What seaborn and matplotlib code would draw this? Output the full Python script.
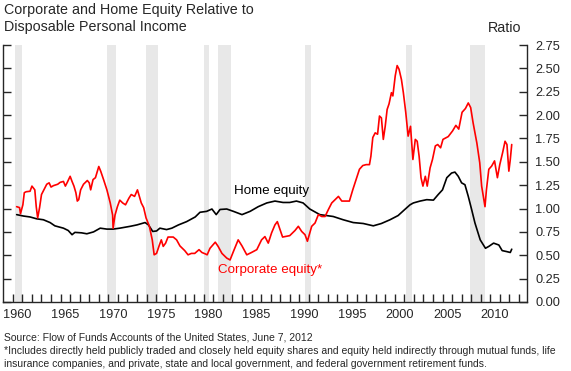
import numpy as np
import pandas as pd
import seaborn as sns
import matplotlib
matplotlib.use("Agg")
import matplotlib.pyplot as plt
from matplotlib.ticker import FixedLocator, FormatStrFormatter

# corporate equity / disposable personal income
corp_t = [1960.4, 1960.7, 1960.8, 1961.05, 1961.2, 1961.4, 1961.8, 1962.0, 1962.3, 1962.45,
          1962.6, 1962.8, 1963.0, 1963.3, 1963.55, 1963.8, 1964.0, 1964.25, 1964.7, 1964.95,
          1965.3, 1965.5, 1965.7, 1966.0, 1966.2, 1966.4, 1966.6, 1966.75, 1966.9, 1967.1,
          1967.4, 1967.8, 1968.0, 1968.15, 1968.4, 1968.65, 1969.0, 1969.2, 1969.5, 1969.85,
          1970.2, 1970.45, 1970.5, 1970.7, 1970.95, 1971.2, 1971.5, 1971.8, 1972.15, 1972.4,
          1972.75, 1973.05, 1973.25, 1973.45, 1973.7, 1973.95, 1974.3, 1974.6, 1974.8, 1975.05,
          1975.35, 1975.55, 1975.75, 1976.0, 1976.25, 1976.8, 1977.15, 1977.5, 1978.0, 1978.35,
          1978.7, 1979.05, 1979.5, 1979.8, 1980.15, 1980.35, 1980.65, 1981.2, 1981.5, 1981.9,
          1982.4, 1982.75, 1983.1, 1983.6, 1984.0, 1984.5, 1985.0, 1985.55, 1986.05, 1986.4,
          1986.75, 1987.1, 1987.45, 1987.7, 1988.0, 1988.25, 1989.0, 1989.55, 1989.9, 1990.25,
          1990.6, 1990.85, 1991.3, 1991.65, 1992.0, 1992.35, 1992.7, 1993.05, 1993.4, 1993.75,
          1994.1, 1994.45, 1994.8, 1995.25, 1995.6, 1995.95, 1996.3, 1996.65, 1997.0, 1997.35,
          1997.5, 1997.7, 1997.95, 1998.2, 1998.4, 1998.6, 1998.8, 1999.0, 1999.2, 1999.4,
          1999.65, 1999.8, 2000.05, 2000.25, 2000.45, 2000.7, 2000.9, 2001.15, 2001.4, 2001.65,
          2001.9, 2002.15, 2002.35, 2002.55, 2002.75, 2002.95, 2003.2, 2003.4, 2003.7, 2003.95,
          2004.25, 2004.5, 2004.8, 2005.05, 2005.6, 2006.05, 2006.4, 2006.7, 2007.05, 2007.4,
          2007.7, 2007.95, 2008.2, 2008.6, 2008.9, 2009.1, 2009.45, 2009.6, 2009.85, 2010.15,
          2010.45, 2010.75, 2011.0, 2011.3, 2011.55, 2011.75, 2011.95, 2012.1, 2012.25]
corp_v = [1.02, 1.01, 0.945, 1.04, 1.17, 1.18, 1.185, 1.24, 1.20, 1.02,
          0.90, 1.01, 1.15, 1.21, 1.26, 1.275, 1.23, 1.245, 1.26, 1.28,
          1.29, 1.24, 1.28, 1.345, 1.29, 1.24, 1.17, 1.08, 1.095, 1.20,
          1.26, 1.30, 1.275, 1.20, 1.31, 1.33, 1.45, 1.40, 1.31, 1.20,
          1.06, 0.93, 0.79, 0.93, 1.02, 1.09, 1.06, 1.04, 1.11, 1.15,
          1.13, 1.20, 1.13, 1.06, 1.01, 0.90, 0.81, 0.665, 0.505, 0.52,
          0.61, 0.665, 0.595, 0.63, 0.695, 0.695, 0.665, 0.60, 0.55, 0.505,
          0.52, 0.52, 0.56, 0.53, 0.515, 0.505, 0.575, 0.64, 0.595, 0.52,
          0.47, 0.45, 0.54, 0.665, 0.60, 0.505, 0.53, 0.56, 0.665, 0.70,
          0.63, 0.74, 0.825, 0.86, 0.77, 0.695, 0.71, 0.765, 0.81, 0.755,
          0.72, 0.65, 0.81, 0.845, 0.935, 0.915, 0.915, 0.99, 1.06, 1.095,
          1.13, 1.08, 1.08, 1.08, 1.20, 1.31, 1.42, 1.46, 1.47, 1.47,
          1.56, 1.76, 1.81, 1.795, 1.99, 1.97, 1.74, 1.88, 2.06, 2.12,
          2.24, 2.205, 2.42, 2.53, 2.49, 2.38, 2.24, 2.03, 1.775, 1.88,
          1.525, 1.74, 1.72, 1.56, 1.33, 1.24, 1.345, 1.24, 1.435, 1.525,
          1.67, 1.685, 1.65, 1.74, 1.77, 1.83, 1.89, 1.85, 2.03, 2.07,
          2.13, 2.08, 1.92, 1.70, 1.49, 1.24, 1.02, 1.20, 1.42, 1.455,
          1.51, 1.33, 1.47, 1.60, 1.72, 1.685, 1.40, 1.525, 1.685]

# home equity / disposable personal income
home_t = [1960.4, 1961.1, 1961.8, 1962.5, 1963.2, 1963.9, 1964.4, 1965.3, 1965.8, 1966.2,
          1966.5, 1967.2, 1967.75, 1968.45, 1969.15, 1969.85, 1970.5, 1971.2, 1972.3, 1973.0,
          1973.85, 1974.2, 1974.65, 1975.05, 1975.4, 1976.1, 1976.65, 1977.35, 1978.2, 1979.1,
          1979.6, 1980.3, 1980.85, 1981.3, 1981.7, 1982.4, 1983.1, 1984.0, 1984.85, 1985.7,
          1986.6, 1987.45, 1988.3, 1989.0, 1989.7, 1990.4, 1991.1, 1992.15, 1993.55, 1994.6,
          1995.65, 1996.7, 1997.75, 1998.6, 1999.5, 2000.35, 2001.05, 2001.6, 2001.95, 2002.65,
          2003.35, 2004.05, 2004.55, 2005.0, 2005.45, 2005.95, 2006.3, 2006.65, 2007.0, 2007.35,
          2007.7, 2008.05, 2008.4, 2008.95, 2009.5, 2009.85, 2010.35, 2010.9, 2011.25, 2011.7,
          2012.1, 2012.25]
home_v = [0.935, 0.92, 0.91, 0.89, 0.88, 0.85, 0.815, 0.79, 0.765, 0.72,
          0.745, 0.74, 0.73, 0.75, 0.79, 0.78, 0.78, 0.79, 0.81, 0.825,
          0.85, 0.825, 0.755, 0.76, 0.79, 0.775, 0.79, 0.825, 0.86, 0.91,
          0.96, 0.97, 0.995, 0.935, 0.99, 0.995, 0.97, 0.935, 0.97, 1.02,
          1.06, 1.08, 1.065, 1.065, 1.08, 1.06, 0.995, 0.935, 0.915, 0.88,
          0.85, 0.84, 0.815, 0.84, 0.88, 0.925, 0.99, 1.04, 1.06, 1.08,
          1.095, 1.09, 1.15, 1.20, 1.33, 1.38, 1.39, 1.345, 1.275, 1.255,
          1.13, 0.99, 0.845, 0.665, 0.575, 0.595, 0.63, 0.61, 0.55, 0.54,
          0.53, 0.565]

# NBER recessions (start, end)
rec_start = [1960.25, 1969.9, 1973.9, 1980.0, 1981.5, 1990.55, 2001.2, 2007.9]
rec_end = [1961.0, 1970.85, 1975.2, 1980.5, 1982.85, 1991.2, 2001.85, 2009.45]

year_labels = list(range(1960, 2011, 5))
y_ticks = [0.0, 0.25, 0.5, 0.75, 1.0, 1.25, 1.5, 1.75, 2.0, 2.25, 2.5, 2.75]

sns.set_style("ticks")
plt.rcParams['font.family'] = ['Liberation Sans', 'DejaVu Sans']

fig = plt.figure(figsize=(5.71, 3.71), dpi=100)
ax = fig.add_axes([3.3/571, 69/371, 523.7/571, 257/371])

for s, e in zip(rec_start, rec_end):
    ax.axvspan(s, e, color='#e8e8e8', lw=0, zorder=0)

corp = pd.DataFrame({'t': corp_t, 'v': corp_v})
home = pd.DataFrame({'t': home_t, 'v': home_v})
sns.lineplot(data=home, x='t', y='v', color='black', lw=1.2, sort=False, ax=ax, zorder=3)
sns.lineplot(data=corp, x='t', y='v', color='#ff0000', lw=1.2, sort=False, ax=ax, zorder=3)

ax.set_xlim(1959, 2013.85)
ax.set_ylim(0, 2.75)
ax.set_xlabel('')
ax.set_ylabel('')

ax.xaxis.set_major_locator(FixedLocator([y + 0.5 for y in year_labels]))
ax.set_xticklabels([str(y) for y in year_labels])
ax.xaxis.set_minor_locator(FixedLocator(list(range(1960, 2014))))
ax.tick_params(axis='x', which='major', length=0, labelsize=9.2, pad=5)
ax.tick_params(axis='x', which='minor', direction='in', length=6, width=1, top=False)

ax.set_yticks(y_ticks)
ax.yaxis.set_major_formatter(FormatStrFormatter('%.2f'))
ax.tick_params(axis='y', left=True, right=True, labelleft=False, labelright=True,
               direction='in', length=6, width=1, labelsize=9.2, pad=6)

ax.spines['top'].set_visible(False)
for sp in ['left', 'right', 'bottom']:
    ax.spines[sp].set_linewidth(1.0)
    ax.spines[sp].set_visible(True)

ax.text(1987.1, 1.19, 'Home equity', ha='center', va='center', fontsize=9.6, color='black')
ax.text(1986.9, 0.34, 'Corporate equity*', ha='center', va='center', fontsize=9.6, color='#ff0000')

fig.text(4/571, 1 - 3/371, 'Corporate and Home Equity Relative to\nDisposable Personal Income',
         ha='left', va='top', fontsize=10.3, linespacing=1.3)
fig.text(521/571, 1 - 28/371, 'Ratio', ha='right', va='center', fontsize=10.3)

fig.text(4/571, 1 - 338/371, 'Source: Flow of Funds Accounts of the United States, June 7, 2012',
         ha='left', va='center', fontsize=7.5)
fig.text(4/571, 1 - 351/371,
         '*Includes directly held publicly traded and closely held equity shares and equity held indirectly through mutual funds, life',
         ha='left', va='center', fontsize=7.5)
fig.text(4/571, 1 - 364/371,
         'insurance companies, and private, state and local government, and federal government retirement funds.',
         ha='left', va='center', fontsize=7.5)

fig.savefig('out.png', dpi=100)
